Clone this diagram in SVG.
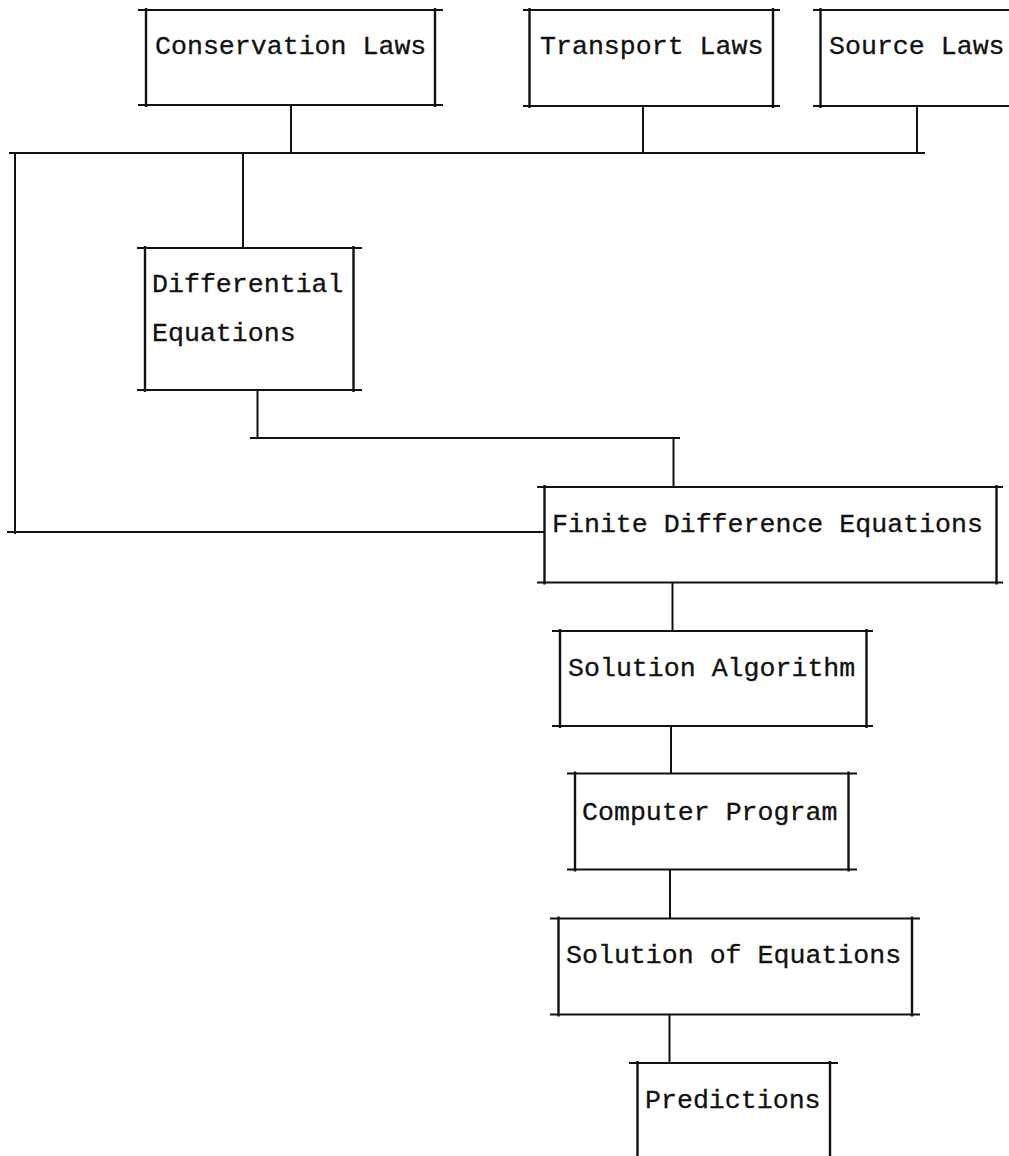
<svg xmlns="http://www.w3.org/2000/svg" width="1009" height="1156" viewBox="0 0 1009 1156">
<style>
  .h { stroke: #111; stroke-width: 1.8; fill: none; }
  .v { stroke: #111; stroke-width: 2.4; fill: none; }
  .c { stroke: #111; stroke-width: 2; fill: none; }
  text { font-family: "Liberation Mono", "Courier New", monospace; font-size: 26.6px; fill: #111; stroke: #111; stroke-width: 0.3; }
</style>
<rect width="1009" height="1156" fill="#fff"/>
<g id="connectors">
  <line class="c" x1="291" y1="105" x2="291" y2="153"/>
  <line class="c" x1="643" y1="106" x2="643" y2="153"/>
  <line class="c" x1="917" y1="106" x2="917" y2="153"/>
  <line class="h" x1="9" y1="153" x2="925" y2="153"/>
  <line class="c" x1="15" y1="153" x2="15" y2="534"/>
  <line class="h" x1="7" y1="532" x2="545" y2="532"/>
  <line class="c" x1="243" y1="153" x2="243" y2="248"/>
  <line class="c" x1="257.5" y1="390" x2="257.5" y2="438"/>
  <line class="h" x1="250" y1="438" x2="680" y2="438"/>
  <line class="c" x1="673.5" y1="438" x2="673.5" y2="487"/>
  <line class="c" x1="672.5" y1="582.5" x2="672.5" y2="631"/>
  <line class="c" x1="671" y1="726" x2="671" y2="773.5"/>
  <line class="c" x1="670" y1="869.5" x2="670" y2="918.5"/>
  <line class="c" x1="669.5" y1="1014.5" x2="669.5" y2="1063"/>
</g>
<g id="conservation-laws">
  <line class="h" x1="138" y1="10" x2="443" y2="10"/>
  <line class="h" x1="138" y1="105" x2="443" y2="105"/>
  <line class="v" x1="146" y1="8" x2="146" y2="107"/>
  <line class="v" x1="435" y1="8" x2="435" y2="107"/>
  <text x="155" y="54">Conservation Laws</text>
</g>
<g id="transport-laws">
  <line class="h" x1="523" y1="10" x2="780" y2="10"/>
  <line class="h" x1="523" y1="106" x2="780" y2="106"/>
  <line class="v" x1="529.5" y1="8" x2="529.5" y2="108"/>
  <line class="v" x1="773" y1="8" x2="773" y2="108"/>
  <text x="540" y="54">Transport Laws</text>
</g>
<g id="source-laws">
  <line class="h" x1="813" y1="10" x2="1009" y2="10"/>
  <line class="h" x1="813" y1="106" x2="1009" y2="106"/>
  <line class="v" x1="820.5" y1="8" x2="820.5" y2="108"/>
  <text x="829" y="54">Source Laws</text>
</g>
<g id="differential-equations">
  <line class="h" x1="137" y1="248" x2="362" y2="248"/>
  <line class="h" x1="137" y1="390" x2="362" y2="390"/>
  <line class="v" x1="145" y1="246" x2="145" y2="392"/>
  <line class="v" x1="353.5" y1="246" x2="353.5" y2="392"/>
  <text x="152" y="292">Differential</text>
  <text x="152" y="341">Equations</text>
</g>
<g id="finite-difference-equations">
  <line class="h" x1="537" y1="487" x2="1003" y2="487"/>
  <line class="h" x1="537" y1="582.5" x2="1003" y2="582.5"/>
  <line class="v" x1="544.5" y1="485" x2="544.5" y2="584.5"/>
  <line class="v" x1="996.5" y1="485" x2="996.5" y2="584.5"/>
  <text x="552" y="532">Finite Difference Equations</text>
</g>
<g id="solution-algorithm">
  <line class="h" x1="552" y1="631" x2="873" y2="631"/>
  <line class="h" x1="552" y1="726" x2="873" y2="726"/>
  <line class="v" x1="560" y1="629" x2="560" y2="728"/>
  <line class="v" x1="866.5" y1="629" x2="866.5" y2="728"/>
  <text x="568" y="676">Solution Algorithm</text>
</g>
<g id="computer-program">
  <line class="h" x1="567" y1="773.5" x2="857" y2="773.5"/>
  <line class="h" x1="567" y1="869.5" x2="857" y2="869.5"/>
  <line class="v" x1="575" y1="771.5" x2="575" y2="871.5"/>
  <line class="v" x1="848.5" y1="771.5" x2="848.5" y2="871.5"/>
  <text x="582" y="820">Computer Program</text>
</g>
<g id="solution-of-equations">
  <line class="h" x1="550" y1="918.5" x2="920" y2="918.5"/>
  <line class="h" x1="550" y1="1014.5" x2="920" y2="1014.5"/>
  <line class="v" x1="558.5" y1="916.5" x2="558.5" y2="1016.5"/>
  <line class="v" x1="912" y1="916.5" x2="912" y2="1016.5"/>
  <text x="566" y="963">Solution of Equations</text>
</g>
<g id="predictions">
  <line class="h" x1="629" y1="1063" x2="838" y2="1063"/>
  <line class="v" x1="637.5" y1="1061" x2="637.5" y2="1156"/>
  <line class="v" x1="830" y1="1061" x2="830" y2="1156"/>
  <text x="645" y="1108">Predictions</text>
</g>
</svg>
